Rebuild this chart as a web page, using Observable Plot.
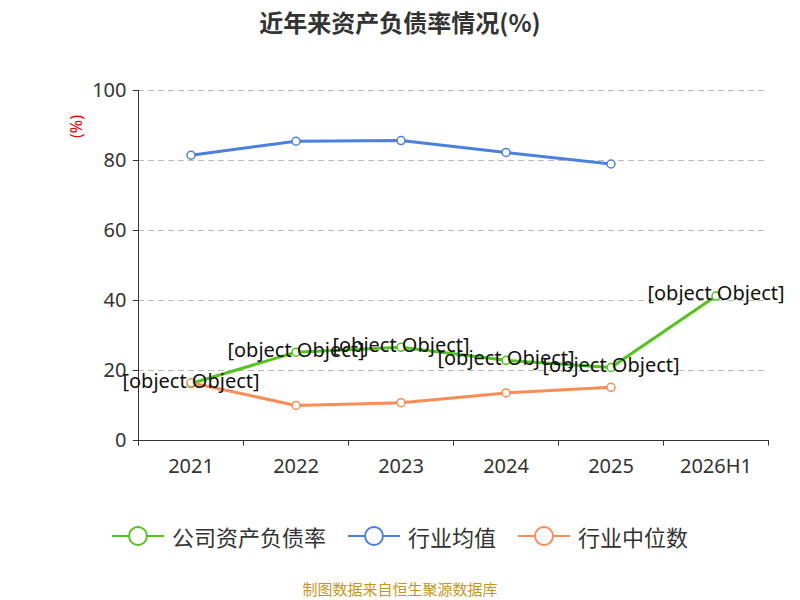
<!DOCTYPE html>
<html><head><meta charset="utf-8">
<script src="https://cdn.jsdelivr.net/npm/d3@7"></script>
<script src="https://cdn.jsdelivr.net/npm/@observablehq/plot@0.6"></script>
<style>
body{margin:0;width:800px;height:600px;font-family:"Noto Sans CJK SC","Noto Sans",sans-serif;background:#fff;position:relative}
#title{position:absolute;top:4px;width:800px;text-align:center;font-size:24px;font-weight:bold;color:#333}
#chart{position:absolute;top:50px;left:0}
#legend{position:absolute;top:520px;width:800px;display:flex;justify-content:center;gap:22px;font-size:22px;color:#333}
.li{display:flex;align-items:center;gap:8px}
#cap{position:absolute;top:578px;width:800px;text-align:center;font-size:15px;color:#c8961e}
</style></head><body>
<div id="title">近年来资产负债率情况(%)</div>
<div id="chart"></div>
<div id="legend"></div>
<div id="cap">制图数据来自恒生聚源数据库</div>
<script>
const categories=["2021","2022","2023","2024","2025","2026H1"];
const company=[16.27,25.24,26.62,22.9,20.86,41.27];
const industryAvg=[81.5,85.5,85.7,82.3,79.0];
const industryMedian=[16.5,10.0,10.8,13.6,15.2];
const yTicks=[0,20,40,60,80,100];
const series=[
 {name:"公司资产负债率",color:"#52c41a",vals:company},
 {name:"行业均值",color:"#4a80e0",vals:industryAvg},
 {name:"行业中位数",color:"#ff8c55",vals:industryMedian}];
const rows=series.flatMap(s=>s.vals.map((v,i)=>({s:s.name,c:s.color,i,v})));
const comp=company.map((v,i)=>({i,v}));
const left=-0.5;
const bounds=d3.range(categories.length+1).map(i=>i-0.5);
const chart=Plot.plot({
 width:800,height:430,marginLeft:138,marginRight:32,marginTop:40,marginBottom:40,
 x:{type:"linear",domain:[-0.5,categories.length-0.5],axis:null},
 y:{type:"linear",domain:[0,100],axis:null,clamp:false},
 marks:[
  Plot.ruleY(yTicks.filter(t=>t>0),{y:d=>d,stroke:"#bbb",strokeDasharray:"6,4"}),
  Plot.ruleY([0],{y:d=>d,stroke:"#333"}),
  Plot.ruleX([left],{x:d=>d,y1:()=>0,y2:()=>100,stroke:"#333"}),
  Plot.ruleY(yTicks,{y:d=>d,x1:()=>left-0.05,x2:()=>left,stroke:"#333"}),
  Plot.text(yTicks,{x:()=>left,y:d=>d,text:d=>String(d),dx:-12,textAnchor:"end",fontSize:20,fill:"#333"}),
  Plot.ruleX(bounds,{x:d=>d,y1:()=>0,y2:()=>-1.6,stroke:"#333"}),
  Plot.text(categories,{x:(d,i)=>i,y:()=>0,dy:26,text:d=>d,fontSize:20,fill:"#333"}),
  Plot.line(rows,{x:"i",y:"v",z:"s",stroke:"c",strokeWidth:3}),
  Plot.dot(rows,{x:"i",y:"v",stroke:"c",fill:"#fff",r:4,strokeWidth:1.5}),
  Plot.text(comp,{x:"i",y:"v",text:d=>String(d),fontSize:20,fill:"#111",dy:-2}),
  Plot.text(["(%)"],{x:()=>left,y:()=>100,text:d=>d,dx:-62,dy:36,rotate:-90,fill:"#e00",fontSize:16})
 ]});
document.getElementById("chart").appendChild(chart);
const lg=document.getElementById("legend");
series.forEach(s=>{const d=document.createElement("div");d.className="li";
d.innerHTML=`<svg width="52" height="24"><line x1="0" x2="52" y1="12" y2="12" stroke="${s.color}" stroke-width="2"/><circle cx="26" cy="12" r="9" fill="#fff" stroke="${s.color}" stroke-width="2"/></svg><span>${s.name}</span>`;lg.appendChild(d);});
</script></body></html>
